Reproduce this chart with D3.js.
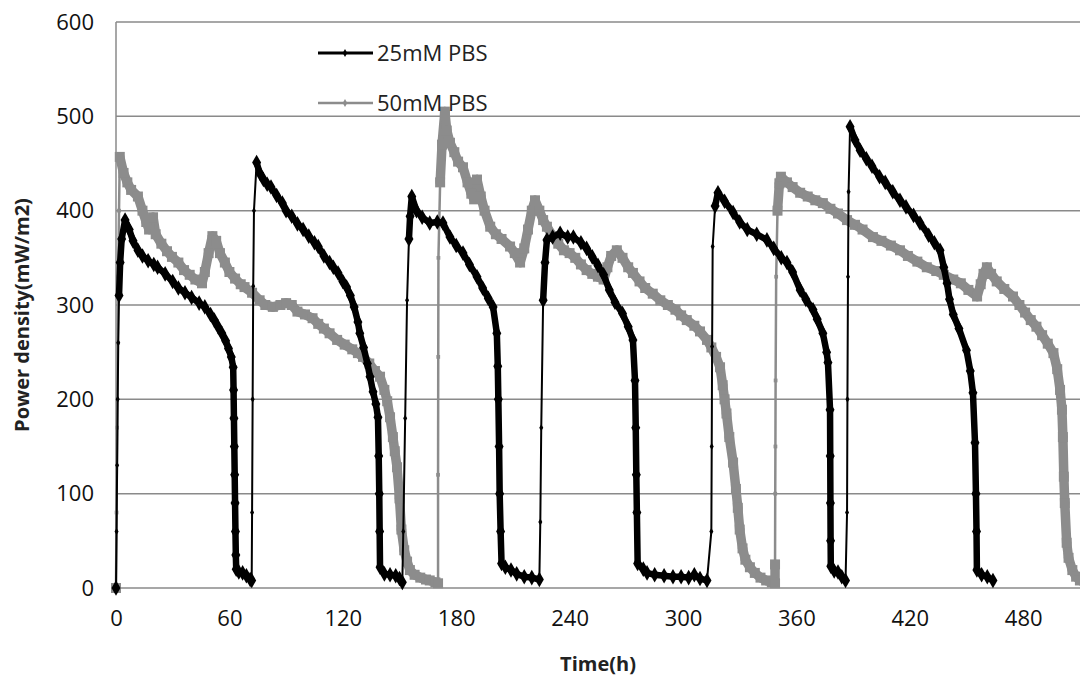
<!DOCTYPE html>
<html>
<head>
<meta charset="utf-8">
<script src="https://cdn.jsdelivr.net/npm/d3@7"></script>
<style>
  body { margin: 0; background: #fff; }
  svg { display: block; font-family: 'Open Sans', sans-serif; }
</style>
</head>
<body>
<svg id="chart" width="1080" height="680"></svg>
<script>
// values: [time (h), power density (mW/m2)]
const seriesNames = ['25mM PBS', '50mM PBS']
const xTicks = [0, 60, 120, 180, 240, 300, 360, 420, 480]
const yTicks = [0, 100, 200, 300, 400, 500, 600]

const pbs25 = [
  [0,0],[0.3,60],[0.6,130],[0.9,200],[1.2,260],[1.6,310],[2.2,345],[3,370],[4.8,390],[7,380],[9,368],[11.6,358],[14,352],[17,347],[20,343],[22,340],[26,333],[30,325],[33,318],[36.5,313],[40,308],[44,302],[47,298],[50,290],[52,284],[54,277],[56,270],[58,262],[59.5,254],[61,245],[62,234],[62.2,210],[62.4,180],[62.6,150],[62.8,120],[63,90],[63.2,60],[63.4,35],[63.6,20],[65,17],[67,16],[69,13],[71,9],[71.8,8],
  [72,80],[72.3,200],[72.6,320],[73,400],[74.4,451],[76,440],[78,433],[80,428],[82,425],[85,416],[88,408],[90,400],[93,394],[96,386],[99,380],[102,373],[105,366],[107,362],[110,352],[113,345],[115,340],[117.5,334],[120,325],[122,319],[124,310],[126,298],[128,282],[129,270],[131,255],[133,238],[134.4,224],[136,208],[137.5,195],[138.6,181],[139,140],[139.3,100],[139.5,60],[139.7,22],[142,15],[145,14],[148,13],[150,10],[151.5,6],
  [152,60],[153,180],[154,305],[155,370],[155.6,394],[156.5,415],[159,400],[162,393],[166,387],[170,388],[173,387],[176.7,372],[180,363],[183.6,355],[187,343],[191,330],[194,318],[197,307],[199.5,298],[201.5,270],[202,235],[202.3,200],[202.7,150],[203,100],[203.5,60],[204,26],[206,22],[209,19],[212,15],[216,12],[220,11],[224,9],
  [224.5,70],[225,170],[226,305],[227,345],[228,369],[231,372],[235,376],[239,372],[242,372],[246,366],[249,360],[252,351],[255,342],[258,332],[261,316],[264,303],[268,291],[271,277],[273.5,263],[274.6,220],[275,170],[275.3,120],[275.6,80],[276,26],[279,20],[281,16],[285,14],[290,13],[294.7,12],[299,12],[303,11],[306,14],[309,10],[312.7,8],
  [315,60],[315.2,150],[315.4,256],[315.7,362],[317,405],[318.5,419],[322,410],[326.5,398],[330,388],[334,380],[339,375],[344.4,369],[348,360],[352,350],[355,345],[358,335],[362,316],[365,306],[368.8,295],[371,285],[374,270],[376,250],[376.7,239],[377.8,189],[377.9,140],[378,90],[378.1,50],[378.2,23],[380,18],[382,17],[384,12],[386,8],
  [386.8,80],[387,200],[387.3,330],[387.6,420],[388.4,489],[391,475],[393.7,464],[397,455],[400,447],[404,436],[407,430],[411,420],[414.8,411],[418,404],[422,395],[425.4,387],[430,374],[433,366],[436,358],[438,340],[439.7,323],[441,306],[443,290],[446,275],[450,252],[452,230],[453.4,207],[454.5,154],[455,100],[455.3,60],[455.5,19],[458,14],[461,12],[464,8]
]

const pbs50 = [
  [0,0],[0.3,80],[0.6,170],[0.9,260],[1.2,330],[1.6,400],[2,457],[4,440],[6,430],[8,422],[11.6,415],[14,400],[16,388],[17.5,380],[19.6,393],[21,375],[24,365],[27,357],[29.6,351],[33,345],[36,337],[39,332],[42,327],[45.5,323],[47,335],[49,355],[51,373],[53,368],[55,355],[57.6,345],[60,335],[63,328],[66,322],[68,319],[72,313],[76,305],[79,300],[83,298],[87,300],[90,302],[93,300],[96,293],[100,290],[104,286],[107,280],[110,275],[113,270],[117,263],[121,258],[125,253],[128,249],[130.7,245],[134,238],[137,230],[139.7,224],[142,210],[143.5,198],[145,181],[146.5,160],[147.5,145],[148.7,128],[150,95],[151,62],[152.5,40],[154,28],[155.5,19],[158,14],[161,11],[164,9],[166,8],[169,6],[170.4,5],
  [170.4,120],[170.5,245],[170.6,350],[171.5,430],[172.5,470],[174,505],[175,485],[176.7,472],[179,462],[181,452],[183.6,446],[186,430],[188,418],[189.5,412],[191,433],[193,415],[195,400],[198,383],[201,375],[204,370],[208.5,362],[211,355],[213.8,345],[216,360],[218,380],[220,400],[221.7,411],[224,400],[226,390],[228,383],[231,373],[234,365],[237,358],[240,355],[243,350],[246,343],[249,337],[252,333],[255,330],[258,327],[260,340],[262,352],[265,358],[268,350],[271,340],[273.5,334],[277,325],[280,318],[284,312],[288,305],[292,300],[296,295],[299,289],[302,284],[306,278],[309,272],[312.7,263],[315,255],[317.5,245],[319.6,234],[321,215],[322,200],[323,185],[324.5,160],[326.5,133],[328,105],[329,85],[330,62],[331.5,42],[333,30],[335.4,22],[338,16],[341,11],[344,8],[347,6],[348.7,5],
  [348.7,25],[348.8,100],[348.9,150],[349,220],[349.3,330],[350,400],[351,429],[351.8,436],[355,430],[358,425],[362,419],[366,415],[370,411],[374,408],[378,402],[382,397],[386.8,390],[391,385],[395,380],[400.5,372],[405,368],[410,363],[414.8,358],[419,352],[424,346],[429,340],[434,336],[438,332],[443,327],[447,323],[451,316],[455.6,309],[457.5,322],[459,333],[460.8,340],[463,333],[466,325],[470,317],[474.6,309],[478,300],[481,292],[484,284],[487,277],[490,268],[493,259],[496,249],[498,232],[499.5,210],[500.5,189],[501,160],[501.5,118],[502,90],[503,48],[504,32],[506,19],[508,12],[510,8],[513,6]
]

const svg = d3.select('#chart')
const gridColor = '#8a8a8a'

// plot box is cut off on the right, as in the picture
const x = d3.scaleLinear().domain([0, 540]).range([116, 1136.6])
const y = d3.scaleLinear().domain([0, 600]).range([588, 22])

svg.append('rect').attr('width', 1080).attr('height', 680).attr('fill', '#fff')

// horizontal gridlines
svg.append('g')
  .selectAll('line')
  .data(yTicks)
  .join('line')
  .attr('x1', x(0)).attr('x2', 1080)
  .attr('y1', d => y(d)).attr('y2', d => y(d))
  .attr('stroke', gridColor)
  .attr('stroke-width', 1.5)

svg.append('line')
  .attr('x1', x(0)).attr('x2', x(0))
  .attr('y1', y(0)).attr('y2', y(600))
  .attr('stroke', gridColor)
  .attr('stroke-width', 1.5)

const yAxis = svg.append('g')
  .attr('transform', `translate(${x(0) - 22},0)`)
  .call(d3.axisLeft(y).tickValues(yTicks).tickSize(0).tickPadding(0))
yAxis.select('.domain').remove()
yAxis.selectAll('text')
  .attr('font-size', 22)
  .attr('fill', '#111')
  .attr('font-family', "'Open Sans', sans-serif")

const xAxis = svg.append('g')
  .attr('transform', `translate(0,${y(0) + 22})`)
  .call(d3.axisBottom(x).tickValues(xTicks).tickSize(0).tickPadding(0))
xAxis.select('.domain').remove()
xAxis.selectAll('text')
  .attr('font-size', 22)
  .attr('fill', '#111')
  .attr('font-family', "'Open Sans', sans-serif")

// axis titles
svg.append('text')
  .attr('x', 598).attr('y', 671)
  .attr('text-anchor', 'middle')
  .attr('font-size', 20).attr('font-weight', 'bold').attr('fill', '#222')
  .text('Time(h)')

svg.append('text')
  .attr('transform', 'translate(29,315) rotate(-90)')
  .attr('text-anchor', 'middle')
  .attr('font-size', 20).attr('font-weight', 'bold').attr('fill', '#222')
  .text('Power density(mW/m2)')

const styles = [
  { data: pbs25, color: '#000', thick: 6.5, thin: 2, symbol: d3.symbolDiamond, big: 70, small: 14 },
  { data: pbs50, color: '#8c8c8c', thick: 9.5, thin: 2.5, symbol: d3.symbolSquare, big: 100, small: 14 }
]

// a step that climbs fast (recovery after a refill) is drawn thin, as in the picture
const isJump = (a, b) => b[1] - a[1] > 40

// gray drawn first, black on top
;[styles[1], styles[0]].forEach(s => {
  const g = svg.append('g')
  const segs = d3.pairs(s.data)
  g.selectAll('line')
    .data(segs)
    .join('line')
    .attr('x1', d => x(d[0][0])).attr('y1', d => y(d[0][1]))
    .attr('x2', d => x(d[1][0])).attr('y2', d => y(d[1][1]))
    .attr('stroke', s.color)
    .attr('stroke-linecap', 'round')
    .attr('stroke-width', d => isJump(d[0], d[1]) ? s.thin : s.thick)
  g.selectAll('path.pt')
    .data(s.data)
    .join('path')
    .attr('class', 'pt')
    .attr('transform', d => `translate(${x(d[0])},${y(d[1])})`)
    .attr('d', (d, i) => {
      const prev = s.data[i - 1]
      const next = s.data[i + 1]
      const small = (prev && isJump(prev, d)) && (next && isJump(d, next))
      return d3.symbol().type(s.symbol).size(small ? s.small : s.big)()
    })
    .attr('fill', s.color)
})

// legend
const legend = svg.append('g')
seriesNames.forEach((name, i) => {
  const s = styles[i]
  const ly = 53 + i * 50
  legend.append('line')
    .attr('x1', 318).attr('x2', 373)
    .attr('y1', ly).attr('y2', ly)
    .attr('stroke', s.color)
    .attr('stroke-width', i === 0 ? 3 : 2.5)
  legend.append('path')
    .attr('transform', `translate(345,${ly})`)
    .attr('d', d3.symbol().type(d3.symbolDiamond).size(18))
    .attr('fill', s.color)
  legend.append('text')
    .attr('x', 377).attr('y', ly + 8)
    .attr('font-size', 22).attr('fill', '#222')
    .text(name)
})
</script>
</body>
</html>
